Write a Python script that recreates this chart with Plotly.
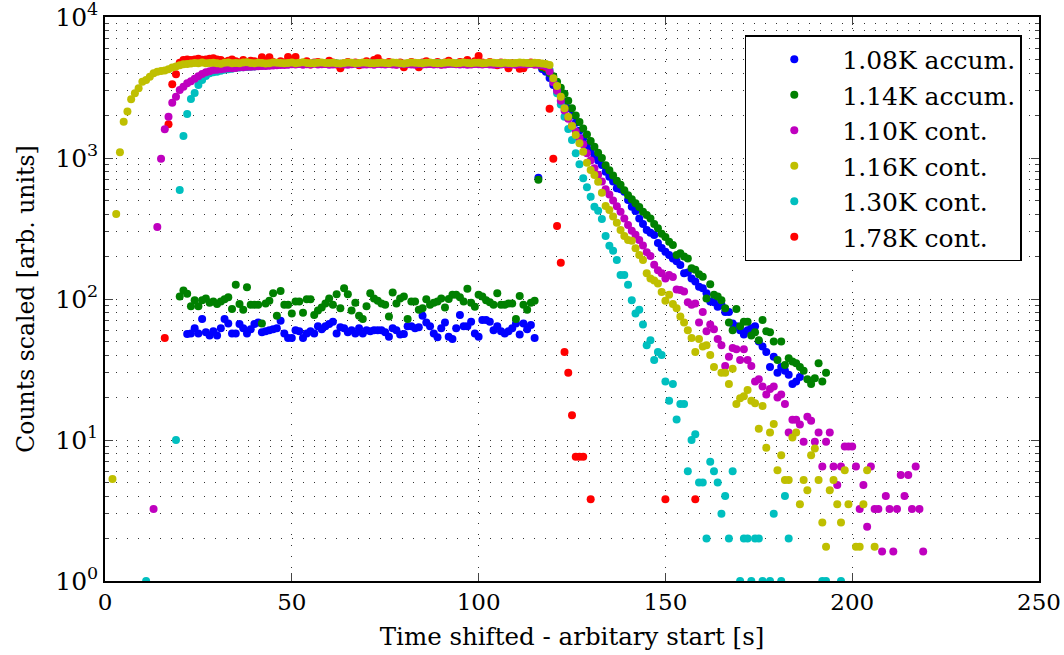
import plotly.graph_objects as go

# ---------------- data (sample interval 1 s) ----------------
# 1.08K accum. (blue)
blue_low_t0 = 22
blue_low = [56.5, 57, 62, 57, 72, 58, 55, 59, 55, 62,
            72, 67, 57, 57, 66.5, 62, 57, 61, 66.5, 68,
            58, 59, 60, 61, 62, 70, 57, 53, 53, 60,
            59, 53, 57, 59, 57, 64, 61, 64, 66.5, 69,
            57, 63, 62, 58, 60, 57, 62, 57, 60, 59,
            60, 60, 60, 58, 54, 62, 60, 56, 56.5, 64,
            64, 62, 63, 76, 68, 64, 57, 53.5, 62, 68,
            54, 52, 62, 77, 64, 64, 69, 57, 54, 71,
            71, 69, 60, 64, 59, 57, 59, 62, 67, 56,
            67, 61, 65.5, 53]
blue_dec_t0 = 116
blue_dec = [725,
            4280, 4090, 3700, 3300, 3050, 2750, 2500, 2250, 2000, 1780,
            1560, 1380, 1237, 1120, 1030, 960, 891, 800, 737, 680,
            610, 600, 577, 504, 452, 420, 373, 340, 309, 295,
            284, 250, 230, 216, 205, 194, 185, 174, 152, 154,
            140, 133, 122, 119, 110, 96, 95, 88, 91, 81,
            81, 67, 64, 60, 56, 60, 62, 64, 50, 46,
            42, 33, 39, 30, 33, 31, 29, 25, 26, 28]

# 1.14K accum. (green)
green_low_t0 = 20
green_low = [104, 115, 109, 89, 98, 89, 98, 101, 94, 96,
             92, 96, 99.5, 103, 85, 126, 92, 84, 121, 91,
             91, 91, 67, 93, 97, 110, 76, 114, 91, 91,
             79, 96, 96, 80, 99.5, 99.5, 77, 83, 87, 93,
             101, 91, 108, 86, 119, 108, 83, 94, 76, 72,
             89, 110, 101, 97, 93, 91, 75, 111, 93, 101,
             104, 72, 96, 96, 84, 86, 99.5, 91, 94, 96,
             101, 87, 100, 107, 107, 103, 96, 118, 94, 88,
             107, 104, 98, 95, 91, 110, 91, 91, 93, 93,
             72, 105, 91, 84, 94, 97]
green_dec_t0 = 116
green_dec = [700,
             4400, 4300, 4000, 3800, 3480, 3150, 2850, 2550, 2250, 2000,
             1800, 1620, 1470, 1320, 1200, 1090, 1000, 890, 820, 750,
             690, 645, 590, 545, 510, 477, 450, 416, 395, 373,
             340, 317, 290, 275, 255, 242, 205, 211, 200, 194,
             165, 161, 150, 144, 101, 127, 107, 104, 98, 86,
             68, 60, 85, 64, 69, 69, 55, 58, 51, 71,
             59, 58, 50, 37, 50, 34, 38, 36, 35, 33,
             31, 27, 25, 27.4, 35, 26, 30]

# 1.10K cont. (magenta)
mag_rise_t0 = 13
mag_rise = [3.24, 324, 988, 1600, 1963, 2466, 2724, 3034, 3204, 3388,
            3500, 3650, 3800, 3950, 4060, 4120, 4204, 4230, 4257, 4290,
            4325, 4330, 4350, 4395, 4400, 4430, 4446, 4460, 4480, 4490,
            4500, 4520, 4530, 4550, 4560, 4571]
mag_plat_t0 = 49
mag_plat = [4580, 4620, 4600, 4650, 4590, 4630, 4610, 4660, 4600, 4620,
            4640, 4590, 4610, 4650, 4630, 4600, 4580, 4620, 4660, 4640,
            4600, 4610, 4630, 4590, 4650, 4620, 4600, 4640, 4610, 4580,
            4630, 4660, 4620, 4600, 4590, 4640, 4610, 4630, 4650, 4600,
            4620, 4580, 4610, 4640, 4660, 4620, 4600, 4630, 4590, 4610,
            4650, 4620, 4600, 4640, 4610, 4580, 4630, 4600, 4620, 4650,
            4610, 4590, 4630, 4620, 4600, 4640, 4610, 4580, 4560, 4500]
mag_dec_t0 = 119
mag_dec = [4100, 3450, 3000, 2550, 2170, 1900, 1700, 1540, 1380, 1250,
           1080, 960, 845, 760, 680, 600, 550, 500, 455, 416,
           373, 335, 305, 285, 262, 240, 215, 202, 175, 160,
           152, 140, 148, 143, 117, 116, 113, 95, 91, 93,
           68, 81, 59, 66, 61, 52, 47, 33.5, 39, 45,
           44, 37, 44, 37, 33.5, 26, 27, 24, 21, 23,
           24, 20, 21, 18, 11.3, 13.9, 13.9, 12.9, 9.7, 14.6,
           13.7, 9.7, 11.3, 6.5, 9.7, 11.3, 6.5, 4.8, 6.5, 9.0,
           9.0, 9.0, 6.5, 3.24, 4.8, 2.43, 6.5, 3.24, 3.24, 1.62,
           4.0, 3.24, 1.62, 3.24, 5.65, 4.0, 5.65, 3.24, 6.5, 3.24,
           1.62]

# 1.16K cont. (yellow)
yel_rise_t0 = 2
yel_rise = [5.3, 400, 1100, 1811, 2133, 2606, 2877, 3122, 3475, 3572,
            3773, 3987, 4093, 4140, 4170, 4257, 4375, 4450, 4550, 4620,
            4645]
yel_plat_t0 = 23
yel_plat = [4680, 4720, 4700, 4750, 4690, 4710, 4740, 4700, 4660, 4730,
            4760, 4700, 4720, 4690, 4750, 4780, 4710, 4700, 4740, 4720,
            4680, 4700, 4760, 4730, 4710, 4690, 4720, 4750, 4700, 4740,
            4770, 4720, 4700, 4690, 4730, 4760, 4720, 4710, 4740, 4700,
            4680, 4720, 4750, 4730, 4700, 4720, 4760, 4740, 4700, 4690,
            4720, 4740, 4710, 4700, 4750, 4730, 4700, 4680, 4720, 4760,
            4740, 4710, 4700, 4730, 4750, 4720, 4700, 4690, 4740, 4760,
            4730, 4700, 4720, 4750, 4710, 4690, 4730, 4740, 4700, 4720,
            4760, 4730, 4710, 4700, 4740, 4720, 4690, 4710, 4750, 4730,
            4720, 4700, 4740, 4710, 4680, 4650]
yel_dec_t0 = 119
yel_dec = [4572, 3675, 3244, 2722, 2250, 1964, 1687, 1456, 1270, 1109,
           927, 822, 757, 679, 568, 457, 428, 384, 348, 308,
           280, 262, 259, 229, 205, 189, 152, 140, 135, 129,
           112, 97, 107, 92, 86, 75, 68, 60, 53, 42,
           52, 46, 47, 40, 33, None, 30, 30, 25, 32,
           18, 19.8, 20.4, 22.6, 19, 18.2, 12, 17.4, 8.8, 11.3,
           13, 6.1, 7.8, 5.2, 5.2, 10.4, 11.3, 3.5, 5.2, 4.4,
           7.8, 8.7, 5.2, 2.6, 1.75, 4.4, 5.2, 3.5, 2.6, 6.1,
           3.5, None, 1.75, 1.75, 3.5, 6.1, None, 1.75]

# 1.30K cont. (cyan)
cyan_first_t = 11
cyan_first = [1]
cyan_rise_t0 = 19
cyan_rise = [10, 593, 1432, 2051, 2620, 2890, 3296, 3572, 3819, 3990,
             4050, 4093, 4150, 4220, 4257, 4300, 4340, 4375, 4400, 4420,
             4440, 4460, 4490, 4510, 4530, 4550, 4571]
cyan_plat_t0 = 46
cyan_plat = [4600, 4630, 4650, 4620, 4680, 4640, 4660, 4700, 4650, 4670,
             4690, 4640, 4660, 4710, 4680, 4650, 4700, 4670, 4640, 4690,
             4720, 4680, 4660, 4650, 4700, 4690, 4660, 4710, 4680, 4650,
             4670, 4700, 4690, 4660, 4640, 4680, 4710, 4690, 4660, 4700,
             4670, 4650, 4690, 4720, 4680, 4660, 4700, 4670, 4690, 4650,
             4680, 4710, 4660, 4690, 4700, 4670, 4650, 4690, 4680, 4660,
             4700, 4690, 4670, 4650, 4680, 4700, 4660, 4690, 4670, 4650,
             4620, 4600, 4550]
cyan_dec_t0 = 119
cyan_dec = [4200, 3500, 2880, 2400, 1963, 1607, 1343, 1079, 902, 718,
            620, 532, 452, 423, 369, 280, 239, 220, 189, 148,
            148, 126, 98, 79, 84, 66, 47, 51, 37, 42,
            40, 26, 19, 25, 14, 18, 18, 6, 10, 11,
            5, 5, 2, 7, 6, 5, 3, 4, 2, 6,
            None, 1, 2, 2, 1, 2, 2, 1, None, 1,
            3, None, 1, 4, 2, None, None, None, None, None,
            None, None, None, 1, 1, None, None, None, 1]

# 1.78K cont. (red)
red_rise_t0 = 16
red_rise = [53, 1733, 3333, 3926, 4744]
red_plat_t0 = 21
red_plat = [4950, 5000, 4950, 5000, 5050, 4980, 5000, 5050, 5100, 5000,
            4950, 4800, 4900, 5000, 4850, 4750, 4950, 4800, 4900, 4850,
            4750, 5176, 4900, 5176, 4800, 4700, 4850, 4750, 5200, 4900,
            5200, 4650, 4700, 4850, 4600, 4750, 4800, 4700, 4650, 4900,
            4750, 4600, 4325, 4700, 4800, 4650, 4750, 4550, 4700, 4850,
            4700, 4950, 5100, 4750, 4650, 4800, 4700, 4600, 4750, 4400,
            4650, 4800, 4700, 4400, 4750, 4850, 4650, 4700, 4800, 4600,
            4750, 4900, 4700, 4650, 4800, 4750, 4950, 4700, 4850, 5290,
            4750, 4650, 4800, 4700, 4550, 4750, 4650, 4330, 4700, 4600,
            4300, 4330, 4650, 4750, 4600, 4700, 4500, 4400]
red_dec_t0 = 119
red_dec = [2238, 988, 330, 181, 42, 30, 15, 7.6, 7.6, 7.6,
           None, 3.8, None, None, None, None, None, None, None, None,
           None, None, None, None, None, None, None, None, None, None,
           None, 3.8, None, None, None, None, None, None, None, 3.8]

names = ["1.08K accum.", "1.14K accum.", "1.10K cont.", "1.16K cont.",
         "1.30K cont.", "1.78K cont."]
colors = ["#0000ff", "#008000", "#bf00bf", "#bfbf00", "#00bfbf", "#ff0000"]

# x/y tick definitions
x_ticks = [0, 50, 100, 150, 200, 250]
y_ticks = [1, 10, 100, 1000, 10000]
y_ticktext = ["10<sup>0</sup>", "10<sup>1</sup>", "10<sup>2</sup>",
              "10<sup>3</sup>", "10<sup>4</sup>"]
y_minor = [m * d for d in (1, 10, 100, 1000) for m in range(2, 10)]


def segs(*pairs):
    xs, ys = [], []
    for t0, vals in pairs:
        for i, v in enumerate(vals):
            xs.append(t0 + i)
            ys.append(v)
    return xs, ys


series = {
    0: segs((blue_low_t0, blue_low), (blue_dec_t0, blue_dec)),
    1: segs((green_low_t0, green_low), (green_dec_t0, green_dec)),
    5: segs((red_rise_t0, red_rise), (red_plat_t0, red_plat), (red_dec_t0, red_dec)),
    4: segs((cyan_first_t, cyan_first), (cyan_rise_t0, cyan_rise),
            (cyan_plat_t0, cyan_plat), (cyan_dec_t0, cyan_dec)),
    2: segs((mag_rise_t0, mag_rise), (mag_plat_t0, mag_plat), (mag_dec_t0, mag_dec)),
    3: segs((yel_rise_t0, yel_rise), (yel_plat_t0, yel_plat), (yel_dec_t0, yel_dec)),
}

FONT = "DejaVu Serif"
fig = go.Figure()
for idx in [0, 1, 5, 4, 2, 3]:
    xs, ys = series[idx]
    fig.add_trace(go.Scatter(
        x=xs, y=ys, mode="markers", name=names[idx],
        legendrank=idx + 1,
        marker=dict(color=colors[idx], size=8, line=dict(width=0)),
    ))

grid_dash = "1px,10px"
grid_col = "#333333"
fig.update_layout(
    width=1064, height=655,
    margin=dict(l=105, r=25, t=17, b=74, autoexpand=False),
    plot_bgcolor="white", paper_bgcolor="white",
    font=dict(family=FONT, size=22, color="black"),
    showlegend=True,
    legend=dict(x=0.685, y=0.968, xanchor="left", yanchor="top",
                bgcolor="white", bordercolor="black", borderwidth=1.5,
                font=dict(family=FONT, size=25),
                itemwidth=86, entrywidth=198, entrywidthmode="pixels"),
    xaxis=dict(range=[0, 250], tickvals=x_ticks, ticks="inside", ticklen=8,
               showline=True, linecolor="black", linewidth=1.5, mirror="allticks",
               showgrid=True, gridcolor=grid_col, griddash=grid_dash, gridwidth=1,
               zeroline=False, tickfont=dict(size=23), automargin=False,
               ticklabeloverflow="allow",
               title=dict(text="Time shifted - arbitary start [s]", font=dict(size=24.5), standoff=14)),
    yaxis=dict(type="log", range=[0, 4], tickvals=y_ticks, ticktext=y_ticktext,
               ticks="inside", ticklen=8, showline=True, linecolor="black",
               linewidth=1.5, mirror="allticks",
               showgrid=True, gridcolor=grid_col, griddash=grid_dash, gridwidth=1,
               zeroline=False, tickfont=dict(size=25), automargin=False,
               ticklabeloverflow="allow",
               minor=dict(tickvals=y_minor, ticks="inside", ticklen=4,
                          showgrid=True, gridcolor=grid_col, griddash=grid_dash,
                          gridwidth=1),
               title=dict(text="Counts scaled [arb. units]", font=dict(size=23.5), standoff=14)),
)

fig.write_html("out.html", config={"displayModeBar": False},
               post_script="document.body.style.margin='0';document.body.style.padding='0';")
